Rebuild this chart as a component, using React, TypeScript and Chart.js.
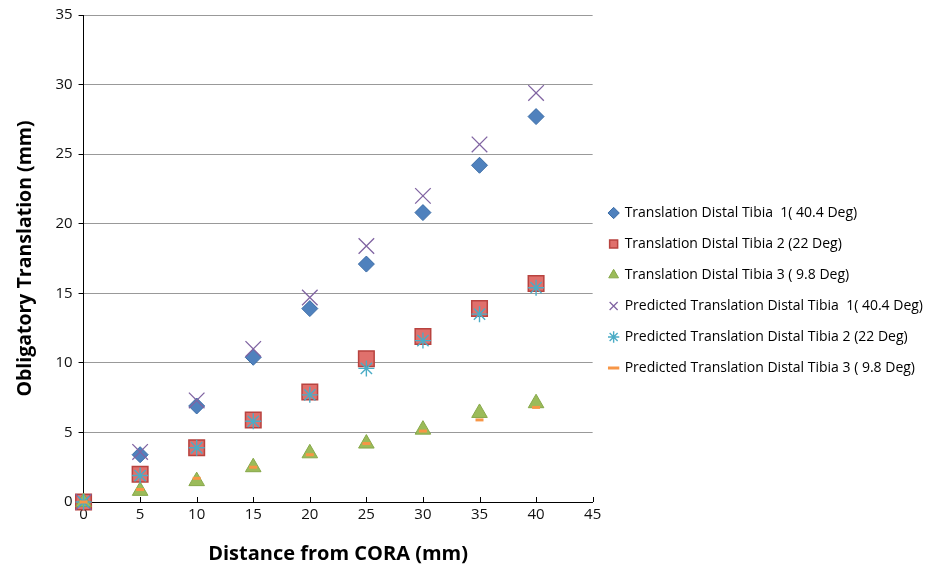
import React, { useEffect, useRef } from "react";
import { Chart, registerables } from "chart.js";

Chart.register(...registerables);

const distances = [0, 5, 10, 15, 20, 25, 30, 35, 40];
const tibia1 = [0, 3.4, 6.9, 10.4, 13.9, 17.1, 20.8, 24.2, 27.7];
const tibia2 = [0, 2.0, 3.9, 5.9, 7.9, 10.3, 11.9, 13.9, 15.7];
const tibia3 = [0, 0.8, 1.5, 2.5, 3.5, 4.2, 5.2, 6.4, 7.1];
const pred1 = [0, 3.6, 7.3, 11.0, 14.7, 18.4, 22.0, 25.7, 29.4];
const pred2 = [0, 1.9, 3.9, 5.8, 7.7, 9.6, 11.6, 13.5, 15.4];
const pred3 = [0, 0.9, 1.7, 2.5, 3.4, 4.2, 5.1, 5.9, 6.8];

const seriesNames = [
  "Translation Distal Tibia  1( 40.4 Deg)",
  "Translation Distal Tibia 2 (22 Deg)",
  "Translation Distal Tibia 3 ( 9.8 Deg)",
  "Predicted Translation Distal Tibia  1( 40.4 Deg)",
  "Predicted Translation Distal Tibia 2 (22 Deg)",
  "Predicted Translation Distal Tibia 3 ( 9.8 Deg)",
];

const toPts = (ys: number[]) => ys.map((y, i) => ({ x: distances[i], y }));

const innerTicks = {
  id: "innerTicks",
  beforeDatasetsDraw(chart: any) {
    const { ctx, scales, chartArea } = chart;
    const xs = scales.x;
    ctx.save();
    ctx.strokeStyle = "#000";
    ctx.lineWidth = 1;
    xs.ticks.forEach((t: any) => {
      const px = Math.round(xs.getPixelForValue(t.value)) + 0.5;
      ctx.beginPath();
      ctx.moveTo(px, chartArea.bottom);
      ctx.lineTo(px, chartArea.bottom - 5);
      ctx.stroke();
    });
    ctx.restore();
  },
};

export default function App() {
  const ref = useRef<HTMLCanvasElement>(null);
  useEffect(() => {
    if (!ref.current) return;
    const styles = [
      { pointStyle: "rectRot", bg: "#4F81BD", border: "#3A6BA5", r: 8, bw: 1 },
      { pointStyle: "rect", bg: "#E0706C", border: "#B8433F", r: 11, bw: 1.5 },
      { pointStyle: "triangle", bg: "#9BBB59", border: "#86A849", r: 9, bw: 1 },
      { pointStyle: "crossRot", bg: "#8064A2", border: "#8064A2", r: 11, bw: 1.3 },
      { pointStyle: "star", bg: "#4BACC6", border: "#4BACC6", r: 8, bw: 1.4 },
      { pointStyle: "line", bg: "#F79646", border: "#F79646", r: 4, bw: 3 },
    ];
    const all = [tibia1, tibia2, tibia3, pred1, pred2, pred3];
    const chart = new Chart(ref.current, {
      type: "scatter",
      data: {
        datasets: all.map((d, i) => ({
          label: seriesNames[i],
          data: toPts(d),
          pointStyle: styles[i].pointStyle as any,
          backgroundColor: styles[i].bg,
          borderColor: styles[i].border,
          borderWidth: styles[i].bw,
          pointRadius: styles[i].r,
          order: 10 - i,
          clip: false as any,
        })),
      },
      options: {
        animation: false,
        responsive: false,
        layout: { padding: { top: 15, right: 0, left: 14, bottom: 2 } },
        plugins: {
          tooltip: { enabled: false },
          legend: {
            position: "right",
            maxWidth: 400,
            labels: {
              usePointStyle: true,
              boxWidth: 8,
              boxHeight: 8,
              padding: 17,
              color: "#000",
              font: { family: "Open Sans", size: 14 },
              sort: (a: any, b: any) => a.datasetIndex - b.datasetIndex,
            },
          },
        },
        scales: {
          x: {
            type: "linear",
            min: 0,
            max: 45,
            ticks: { stepSize: 5, color: "#111", font: { family: "Open Sans", size: 15 }, padding: 4 },
            grid: { display: false, drawTicks: false },
            border: { color: "#000", width: 1 },
            title: {
              display: true,
              text: "Distance from CORA (mm)",
              color: "#000",
              font: { family: "Open Sans", size: 20, weight: "bold" },
              padding: { top: 14, bottom: 0 },
            },
          },
          y: {
            type: "linear",
            min: 0,
            max: 35,
            ticks: { stepSize: 5, color: "#111", font: { family: "Open Sans", size: 15 }, padding: 6 },
            grid: { color: "#999", lineWidth: 1, tickLength: 5, tickColor: "#000" },
            border: { color: "#000", width: 1 },
            title: {
              display: true,
              text: "Obligatory Translation (mm)",
              color: "#000",
              font: { family: "Open Sans", size: 19.5, weight: "bold" },
              padding: { top: 0, bottom: 12 },
            },
          },
        },
      },
      plugins: [innerTicks],
    });
    return () => chart.destroy();
  }, []);
  return (
    <div style={{ position: "absolute", left: 0, top: 0, width: 933, height: 568, background: "#fff" }}>
      <canvas ref={ref} width={933} height={568} />
    </div>
  );
}
